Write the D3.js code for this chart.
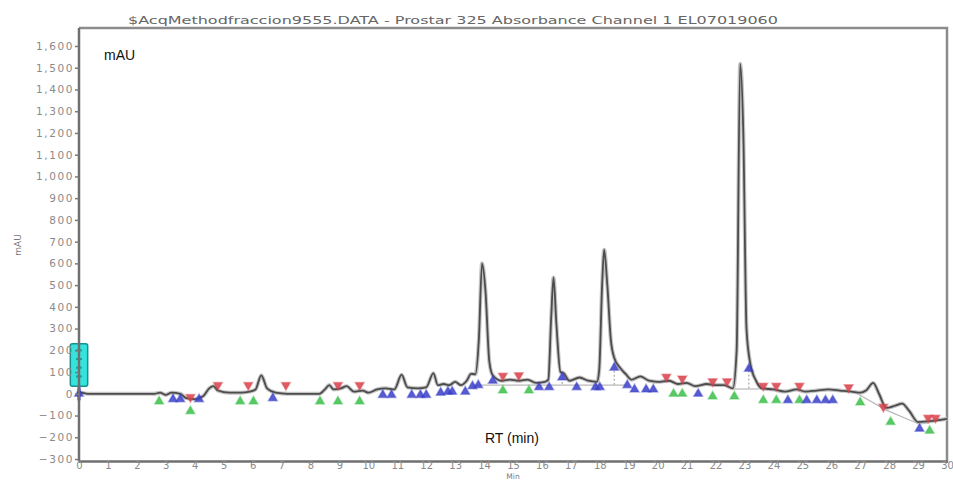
<!DOCTYPE html>
<html>
<head>
<meta charset="utf-8">
<script src="https://cdn.jsdelivr.net/npm/d3@7"></script>
<style>
  body { margin: 0; background: #fff; }
  svg { display: block; }
</style>
</head>
<body>
<div id="chart"></div>
<script>
// Chromatogram trace: [time (min), absorbance (mAU)]
const trace = [
    [0, 0], [0.05, 6], [0.3, 0], [2.6, 0], [2.8, 5], [3.0, -5], [3.2, 5], [3.5, 0],
    [3.7, -20], [4.0, -25], [4.3, -10], [4.5, 25], [4.65, 35], [4.8, 15], [5.2, 5],
    [5.6, 5], [5.9, 10], [6.1, 20], [6.3, 85], [6.5, 25], [6.8, 5], [7.2, 0], [8.3, 0],
    [8.5, 20], [8.65, 40], [8.8, 20], [9.05, 25], [9.25, 35], [9.5, 10], [9.8, 15],
    [10.0, 5], [10.3, 20], [10.6, 25], [10.9, 20], [11.15, 88], [11.35, 30], [11.7, 25],
    [12.0, 30], [12.25, 95], [12.4, 40], [12.6, 45], [12.8, 40], [13.0, 55], [13.2, 40],
    [13.4, 60], [13.55, 92], [13.7, 90], [13.82, 250], [13.93, 600], [14.05, 470],
    [14.18, 150], [14.3, 85], [14.6, 60], [14.9, 65], [15.2, 60], [15.5, 65], [15.8, 50],
    [16.1, 55], [16.22, 65], [16.32, 350], [16.4, 535], [16.5, 320], [16.64, 100],
    [16.75, 95], [16.95, 60], [17.3, 75], [17.6, 60], [17.9, 55], [17.98, 110],
    [18.08, 500], [18.15, 663], [18.26, 500], [18.38, 250], [18.5, 165], [18.7, 120],
    [18.9, 90], [19.1, 65], [19.4, 80], [19.7, 60], [20.0, 55], [20.4, 60], [20.7, 45],
    [21.0, 50], [21.3, 35], [21.7, 45], [22.0, 40], [22.3, 40], [22.6, 25], [22.73, 200],
    [22.85, 1518], [22.96, 1200], [23.07, 300], [23.2, 140], [23.4, 60], [23.6, 25],
    [24.0, 20], [24.4, 10], [24.8, 20], [25.1, 10], [25.5, 15], [25.9, 20], [26.3, 15],
    [26.7, 10], [27.0, 5], [27.2, 15], [27.45, 50], [27.65, 0], [27.9, -65], [28.2, -55],
    [28.45, -45], [28.7, -80], [29.0, -130], [29.5, -125], [30.0, -115]
];

// integration baselines (light grey)
const baselines = [
    [[13.6, 40], [18.9, 40]],
    [[22.6, 22], [23.5, 22]],
    [[26.8, 8], [27.9, -75], [29.05, -140], [30.0, -118]]
];

// dotted drop lines under shoulder peaks: [time, from, to]
const dropLines = [[16.7, 45, 85], [18.5, 42, 150], [23.15, 24, 130]];

// peak markers [time, value]
const redMarks = [
    [3.85, -15], [4.8, 40], [5.85, 40], [7.15, 40], [8.95, 40], [9.7, 40],
    [14.65, 83], [15.2, 85], [20.3, 78], [20.85, 70], [21.9, 57], [22.4, 57],
    [23.65, 37], [24.1, 37], [24.9, 37], [26.6, 30], [27.8, -60], [29.35, -110], [29.6, -110]
];
const greenMarks = [
    [2.77, -35], [3.85, -80], [5.57, -35], [6.03, -35], [8.33, -35], [8.95, -35], [9.7, -35],
    [14.65, 15], [15.55, 15], [20.55, 0], [20.85, 0], [21.9, -12], [22.65, -12],
    [23.65, -30], [24.1, -30], [24.9, -30], [27.0, -40], [28.05, -130], [29.4, -170]
];
const blueMarks = [
    [0, 0], [3.25, -25], [3.5, -25], [4.15, -25], [6.7, -20], [10.5, -5], [10.8, -5],
    [11.5, -5], [11.8, -5], [12.0, -5], [12.5, 5], [12.75, 10], [12.9, 10], [13.35, 10],
    [13.6, 35], [13.8, 40], [14.3, 60], [15.9, 30], [16.25, 30], [16.7, 75], [17.2, 30],
    [17.85, 30], [18.0, 30], [18.5, 120], [18.95, 40], [19.2, 20], [19.6, 20], [19.85, 20],
    [21.4, 0], [23.15, 115], [24.5, -30], [25.15, -30], [25.5, -30], [25.8, -30],
    [26.05, -30], [29.05, -160]
];

const xTicks = d3.range(0, 31, 1);
const yTicks = d3.range(-300, 1601, 100);

const title = "$AcqMethodfraccion9555.DATA - Prostar 325 Absorbance Channel 1 EL07019060";

const width = 953, height = 481;
const plotL = 79, plotR = 947, plotT = 28, plotB = 461;

const svg = d3.select("#chart").append("svg")
    .attr("width", width)
    .attr("height", height)
    .style("font-family", "Arial, 'Liberation Sans', sans-serif");

const x = d3.scaleLinear().domain([0, 30]).range([plotL, plotR]);
const y = d3.scaleLinear().domain([-300, 1600]).range([459, 46]);

// frame (top + right)
svg.append("path")
    .attr("d", `M${plotL},${plotT}H${plotR}V${plotB}`)
    .attr("fill", "none")
    .attr("stroke", "#8c8c8c")
    .attr("stroke-width", 2.5);

// baselines
svg.append("g")
    .selectAll("path")
    .data(baselines)
    .join("path")
    .attr("d", d3.line().x(d => x(d[0])).y(d => y(d[1])))
    .attr("fill", "none")
    .attr("stroke", "#b8b8b8")
    .attr("stroke-width", 1.2);

svg.append("g")
    .selectAll("line")
    .data(dropLines)
    .join("line")
    .attr("x1", d => x(d[0])).attr("x2", d => x(d[0]))
    .attr("y1", d => y(d[1])).attr("y2", d => y(d[2]))
    .attr("stroke", "#aaa")
    .attr("stroke-width", 1.2)
    .attr("stroke-dasharray", "2,2");

// trace: light halo + dark core
const line = d3.line().x(d => x(d[0])).y(d => y(d[1])).curve(d3.curveMonotoneX);
svg.append("path")
    .datum(trace)
    .attr("d", line)
    .attr("fill", "none")
    .attr("stroke", "#c4c4c4")
    .attr("stroke-width", 4);
svg.append("path")
    .datum(trace)
    .attr("d", line)
    .attr("fill", "none")
    .attr("stroke", "#4c4c4c")
    .attr("stroke-width", 1.8);

// markers
const tri = d3.symbol().type(d3.symbolTriangle).size(34);
function marks(data, color, down) {
    svg.append("g")
        .selectAll("path")
        .data(data)
        .join("path")
        .attr("d", tri)
        .attr("transform", d => `translate(${x(d[0])},${y(d[1])})` + (down ? " rotate(180)" : ""))
        .attr("fill", color)
        .attr("fill-opacity", 0.85)
        .attr("stroke", color)
        .attr("stroke-opacity", 0.4)
        .attr("stroke-width", 1.5);
}
marks(redMarks, "#d9404a", true);
marks(greenMarks, "#3cbf4a", false);
marks(blueMarks, "#3a3fc8", false);

// cyan box at injection
svg.append("rect")
    .attr("x", x(-0.3)).attr("width", x(0.3) - x(-0.3))
    .attr("y", y(230)).attr("height", y(35) - y(230))
    .attr("rx", 2)
    .attr("fill", "#35e3dc")
    .attr("stroke", "#1a8f8f")
    .attr("stroke-width", 1.5);
svg.append("g")
    .selectAll("line")
    .data([200, 160, 120, 80])
    .join("line")
    .attr("x1", x(-0.1)).attr("x2", x(0.1))
    .attr("y1", d => y(d)).attr("y2", d => y(d))
    .attr("stroke", "#1b9a90")
    .attr("stroke-width", 2);
svg.append("line")
    .attr("x1", x(0)).attr("x2", x(0))
    .attr("y1", y(30)).attr("y2", y(-30))
    .attr("stroke", "#2b2bd8")
    .attr("stroke-width", 3);

// axes
const xAxis = svg.append("g")
    .attr("transform", `translate(0,${plotB})`)
    .call(d3.axisBottom(x).tickValues(xTicks).tickSize(2).tickSizeOuter(0).tickPadding(0));
const yAxis = svg.append("g")
    .attr("transform", `translate(${plotL},0)`)
    .call(d3.axisLeft(y).tickValues(yTicks).tickFormat(d3.format(",")).tickSize(4).tickSizeOuter(0).tickPadding(1));

[xAxis, yAxis].forEach(g => {
    g.select(".domain").attr("stroke", "#6f6f6f").attr("stroke-width", 2.5);
    g.selectAll(".tick line").attr("stroke", "#7a7a7a").attr("stroke-width", 1.5);
    g.selectAll("text")
        .attr("fill", "#8a8a8a")
        .style("font-family", "'DejaVu Sans', sans-serif");
});
xAxis.selectAll("text").style("font-size", "10px").attr("dy", "0.6em");
yAxis.selectAll("text").style("font-size", "10.5px").style("letter-spacing", "1.6px");
yAxis.select(".domain").attr("d", `M0,${plotT}V${plotB}`);

// texts
svg.append("text")
    .attr("x", 128).attr("y", 24)
    .attr("textLength", 650)
    .attr("lengthAdjust", "spacingAndGlyphs")
    .attr("fill", "#666")
    .style("font-size", "10.5px")
    .style("font-family", "'DejaVu Sans', sans-serif")
    .text(title);

svg.append("text")
    .attr("x", 104).attr("y", 60)
    .attr("fill", "#111")
    .style("font-size", "14px")
    .text("mAU");

svg.append("text")
    .attr("x", 485).attr("y", 443)
    .attr("fill", "#111")
    .style("font-size", "14px")
    .text("RT (min)");

svg.append("text")
    .attr("transform", "translate(21,245) rotate(-90)")
    .attr("text-anchor", "middle")
    .attr("fill", "#777")
    .style("font-size", "9px")
    .style("font-family", "'DejaVu Sans', sans-serif")
    .text("mAU");

svg.append("text")
    .attr("x", 513).attr("y", 478.5)
    .attr("text-anchor", "middle")
    .attr("fill", "#7a7a7a")
    .style("font-size", "7.5px")
    .style("font-family", "'DejaVu Sans', sans-serif")
    .text("Min");
</script>
</body>
</html>
